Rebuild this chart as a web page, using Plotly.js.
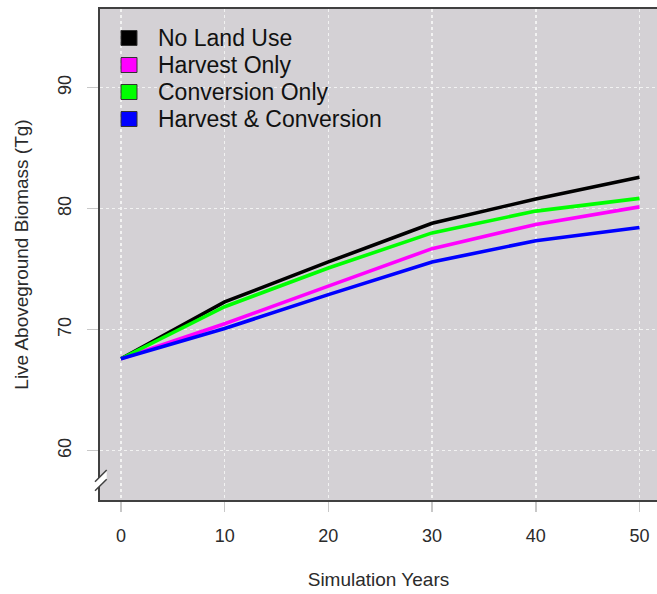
<!DOCTYPE html>
<html>
<head>
<meta charset="utf-8">
<script src="https://cdn.plot.ly/plotly-3.0.1.min.js"></script>
<style>html,body{margin:0;padding:0;background:#fff;}#chart{width:657px;height:594px;}</style>
</head>
<body>
<div id="chart"></div>
<script>
// ---- data ----
var years = [0, 10, 20, 30, 40, 50];
var noLandUse = [67.6, 72.3, 75.6, 78.8, 80.8, 82.6];
var harvestOnly = [67.6, 70.5, 73.6, 76.7, 78.7, 80.15];
var conversionOnly = [67.6, 71.9, 75.1, 78.0, 79.8, 80.85];
var harvestConversion = [67.6, 70.1, 72.9, 75.6, 77.35, 78.45];
var seriesNames = ["No Land Use", "Harvest Only", "Conversion Only", "Harvest & Conversion"];
var seriesColors = ["#000000", "#ff00ff", "#00ff00", "#0000ff"];
var seriesData = [noLandUse, harvestOnly, conversionOnly, harvestConversion];
var xTicks = [0, 10, 20, 30, 40, 50];
var yTicks = [60, 70, 80, 90];

// ---- layout geometry ----
var W = 657, H = 594;
var mL = 100, mR = 0, mT = 9, mB = 94;
var pw = W - mL - mR, ph = H - mT - mB;
function px(x) { return (x - mL) / pw; }
function py(y) { return (H - mB - y) / ph; }

var traces = seriesData.map(function (d, i) {
  return {
    x: years, y: d, type: "scatter", mode: "lines", name: seriesNames[i],
    line: { color: seriesColors[i], width: 3.6 }, showlegend: false, hoverinfo: "skip"
  };
});

var shapes = [];
var annotations = [];
// custom legend (squares + text)
var rowY = [38, 65, 92, 119];
seriesNames.forEach(function (n, i) {
  shapes.push({
    type: "rect", xref: "paper", yref: "paper",
    x0: px(121), x1: px(137), y0: py(rowY[i] + 7.5), y1: py(rowY[i] - 7.5),
    fillcolor: seriesColors[i], line: { color: "#333333", width: 1 }
  });
  annotations.push({
    xref: "paper", yref: "paper", x: px(156), y: py(rowY[i]),
    xanchor: "left", yanchor: "middle", showarrow: false, text: n,
    font: { family: "Liberation Sans, Arial, sans-serif", size: 23, color: "#111111" }
  });
});
// axis break marks
shapes.push({
  type: "path", xref: "paper", yref: "paper",
  path: "M " + px(95) + " " + py(481.7) + " L " + px(106.7) + " " + py(470) +
        " L " + px(106.7) + " " + py(479.3) + " L " + px(95) + " " + py(490.7) + " Z",
  fillcolor: "#ffffff", line: { width: 0 }
});
shapes.push({ type: "line", xref: "paper", yref: "paper", x0: px(95), y0: py(481.7), x1: px(106.7), y1: py(470), line: { color: "#404040", width: 1.5 } });
shapes.push({ type: "line", xref: "paper", yref: "paper", x0: px(95), y0: py(490.7), x1: px(106.7), y1: py(479.3), line: { color: "#404040", width: 1.5 } });

var tickFont = { family: "Liberation Sans, Arial, sans-serif", size: 18, color: "#2b2b2b" };
var titleFont = { family: "Liberation Sans, Arial, sans-serif", size: 19, color: "#2b2b2b" };

var layout = {
  width: W, height: H,
  margin: { l: mL, r: mR, t: mT, b: mB, pad: 0 },
  paper_bgcolor: "#ffffff", plot_bgcolor: "#d4d1d5",
  showlegend: false,
  xaxis: {
    range: [-2.02, 51.69], tickvals: xTicks, ticktext: xTicks.map(String),
    showline: true, linecolor: "#404040", linewidth: 2, mirror: true,
    ticks: "outside", ticklen: 10, tickwidth: 1.5, tickcolor: "#c8c8c8",
    showgrid: true, gridcolor: "#f2f2f2", gridwidth: 1.5, griddash: "dot",
    zeroline: false, tickfont: tickFont, ticklabelstandoff: 8,
    title: { text: "Simulation Years", font: titleFont, standoff: 28 }
  },
  yaxis: {
    range: [55.93, 96.5], tickvals: yTicks, ticktext: yTicks.map(String),
    showline: true, linecolor: "#404040", linewidth: 2, mirror: false,
    ticks: "outside", ticklen: 11, tickwidth: 1.5, tickcolor: "#c8c8c8",
    showgrid: true, gridcolor: "#f2f2f2", gridwidth: 1.5, griddash: "dot",
    zeroline: false, tickfont: tickFont, tickangle: -90, ticklabelstandoff: 9,
    title: { text: "Live Aboveground Biomass (Tg)", font: titleFont, standoff: 21 }
  },
  shapes: shapes,
  annotations: annotations
};

Plotly.newPlot("chart", traces, layout, { staticPlot: true, displayModeBar: false });
</script>
</body>
</html>
